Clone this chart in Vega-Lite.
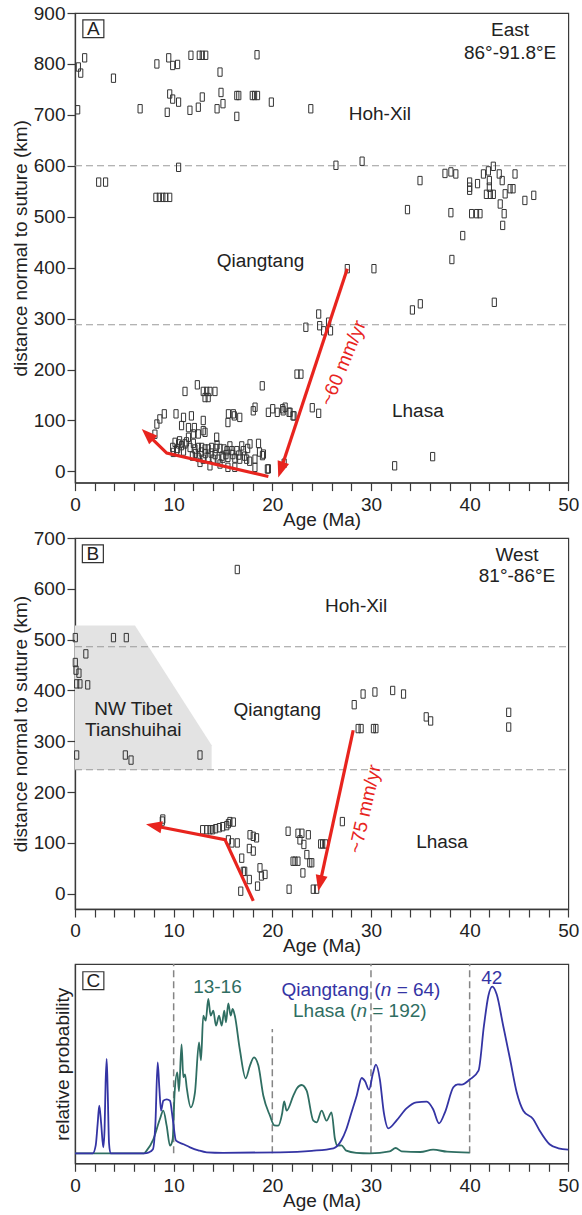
{
  "$schema": "https://vega.github.io/schema/vega-lite/v6.json",
  "padding": {"left": 10, "top": 3, "right": 4, "bottom": 5},
  "config": {
    "font": "Liberation Sans",
    "view": {"stroke": "#3a3a3a", "strokeWidth": 1.2},
    "axis": {
      "domainColor": "#3a3a3a", "domainWidth": 1.3, "tickColor": "#3a3a3a", "tickWidth": 1.2,
      "labelColor": "#222", "titleColor": "#222", "labelFont": "Liberation Sans", "titleFont": "Liberation Sans",
      "labelFontSize": 19, "titleFontSize": 19, "titleFontWeight": "normal", "grid": false, "tickSize": 8
    },
    "text": {"font": "Liberation Sans", "fontSize": 19, "color": "#222"}
  },
  "bounds": "flush",
  "spacing": 55,
  "vconcat": [
    {
      "width": 493.3, "height": 469.6,
      "encoding": {
        "x": {"field": "x", "type": "quantitative", "scale": {"domain": [0, 50], "nice": false, "zero": false},
          "axis": {"title": "Age (Ma)", "values": [0,2,4,6,8,10,12,14,16,18,20,22,24,26,28,30,32,34,36,38,40,42,44,46,48,50],
            "labelExpr": "datum.value % 10 === 0 ? datum.label : ''", "labelOverlap": false, "labelFlush": false, "labelPadding": 5, "titlePadding": -4}},
        "y": {"field": "y", "type": "quantitative", "scale": {"domain": [-22, 900], "nice": false, "zero": false},
          "axis": {"title": "distance normal to suture (km)", "values": [0,100,200,300,400,500,600,700,800,900], "labelPadding": 2, "titlePadding": 3}}
      },
      "layer": [
        {"data": {"values": [{"x": 0, "x2": 50, "y": 600}, {"x": 0, "x2": 50, "y": 288}]},
          "mark": {"type": "rule", "color": "#9a9a9a", "strokeDash": [7, 4], "strokeWidth": 1.1},
          "encoding": {"x2": {"field": "x2"}}},
        {"data": {"values": [
          {"x":0.34,"y":794},{"x":0.58,"y":782},{"x":0.98,"y":812},{"x":0.27,"y":710},{"x":3.9,"y":772},{"x":2.4,"y":568},{"x":3.1,"y":568},{"x":6.6,"y":712},{"x":8.3,"y":800},{"x":9.35,"y":705},{"x":9.5,"y":812},{"x":9.6,"y":741},{"x":9.9,"y":731},{"x":9.9,"y":797},{"x":10.4,"y":799},{"x":10.5,"y":725},{"x":10.5,"y":597},{"x":8.2,"y":538},{"x":8.55,"y":538},{"x":8.9,"y":538},{"x":9.2,"y":538},{"x":9.6,"y":538},{"x":11.65,"y":709},{"x":11.75,"y":817},{"x":12.6,"y":817},{"x":12.9,"y":817},{"x":13.25,"y":817},{"x":12.5,"y":715},{"x":12.9,"y":735},{"x":14.4,"y":712},{"x":14.7,"y":784},{"x":14.8,"y":744},{"x":15.0,"y":722},{"x":16.4,"y":738},{"x":16.6,"y":738},{"x":16.4,"y":697},{"x":17.97,"y":738},{"x":18.2,"y":738},{"x":18.5,"y":738},{"x":18.45,"y":818},{"x":19.9,"y":725},
          {"x":23.9,"y":712},{"x":26.45,"y":601},{"x":29.1,"y":609},{"x":34.97,"y":571},{"x":33.7,"y":514},{"x":37.5,"y":585},{"x":38.1,"y":588},{"x":38.6,"y":584},{"x":38.1,"y":508},{"x":39.3,"y":463},{"x":40.0,"y":568},{"x":40.0,"y":558},{"x":40.0,"y":552},{"x":40.2,"y":506},{"x":40.7,"y":506},{"x":41.05,"y":506},{"x":40.8,"y":565},{"x":41.4,"y":584},{"x":41.9,"y":590},{"x":42.0,"y":571},{"x":42.0,"y":558},{"x":42.4,"y":599},{"x":41.7,"y":544},{"x":42.1,"y":544},{"x":42.4,"y":544},{"x":43.0,"y":584},{"x":43.1,"y":525},{"x":43.3,"y":571},{"x":43.5,"y":506},{"x":43.35,"y":483},{"x":43.6,"y":545},{"x":44.1,"y":555},{"x":44.4,"y":555},{"x":44.6,"y":584},{"x":45.6,"y":532},{"x":46.5,"y":542},
          {"x":27.6,"y":398},{"x":30.3,"y":398},{"x":38.2,"y":416},{"x":34.2,"y":317},{"x":35.0,"y":329},{"x":42.5,"y":332},{"x":24.7,"y":309},{"x":23.4,"y":283},{"x":24.8,"y":286},{"x":25.2,"y":276},{"x":25.7,"y":293},{"x":25.9,"y":276},{"x":22.5,"y":191},{"x":22.9,"y":191},{"x":21.1,"y":119},{"x":21.8,"y":116},{"x":22.2,"y":109},{"x":24.05,"y":125},{"x":24.7,"y":114},{"x":32.4,"y":11},{"x":36.25,"y":29},{"x":21.2,"y":16},
          {"x":11.15,"y":157},{"x":12.4,"y":170},{"x":13.0,"y":157},{"x":13.35,"y":157},{"x":13.68,"y":157},{"x":14.19,"y":157},{"x":13.18,"y":145},{"x":13.5,"y":145},{"x":18.98,"y":168},{"x":9.05,"y":113},{"x":8.6,"y":103},{"x":8.3,"y":93},{"x":8.1,"y":73},{"x":10.24,"y":113},{"x":11.0,"y":106},{"x":11.8,"y":109},{"x":10.8,"y":90},{"x":11.5,"y":86},{"x":12.1,"y":86},{"x":13.0,"y":100},{"x":13.0,"y":80},{"x":14.36,"y":67},{"x":15.5,"y":96},{"x":16.15,"y":109},{"x":16.7,"y":106},{"x":15.55,"y":113},{"x":16.05,"y":113},{"x":18.07,"y":119},{"x":18.25,"y":126},{"x":19.6,"y":116},{"x":20.04,"y":123},{"x":20.5,"y":116},{"x":21.05,"y":123},{"x":21.3,"y":126},{"x":21.7,"y":116},{"x":22.1,"y":109},{"x":19.6,"y":5},
          {"x":10.14,"y":57},{"x":10.5,"y":54},{"x":10.8,"y":50.5},{"x":11.15,"y":54},{"x":11.66,"y":47},{"x":12.16,"y":44},{"x":12.5,"y":47},{"x":12.84,"y":47},{"x":13.18,"y":44},{"x":13.5,"y":44},{"x":13.85,"y":47},{"x":14.3,"y":45},{"x":14.7,"y":45},{"x":15.1,"y":44},{"x":15.4,"y":40.7},{"x":15.9,"y":40.7},{"x":16.4,"y":40.7},{"x":17.06,"y":40.7},{"x":17.74,"y":54},{"x":19.1,"y":34},
          {"x":12.5,"y":27.5},{"x":13.0,"y":24},{"x":13.5,"y":27.5},{"x":14.0,"y":24},{"x":14.5,"y":24},{"x":15.0,"y":26},{"x":15.5,"y":27.5},{"x":16.2,"y":26},{"x":16.7,"y":24},{"x":17.4,"y":24},{"x":18.24,"y":24},{"x":19.0,"y":31},
          {"x":12.67,"y":17.7},{"x":13.68,"y":11},{"x":14.7,"y":14.5},{"x":15.5,"y":8},{"x":16.2,"y":8},{"x":18.24,"y":8},{"x":19.5,"y":4.7},{"x":9.9,"y":47},{"x":9.97,"y":37.3},{"x":10.3,"y":40.7},{"x":11.5,"y":67},{"x":12.0,"y":73.5},{"x":12.5,"y":73.5},{"x":13.18,"y":76.7},
          {"x":10.6,"y":60},{"x":11.0,"y":40},{"x":11.3,"y":58},{"x":12.0,"y":55},{"x":12.2,"y":35},{"x":13.2,"y":35},{"x":13.8,"y":36},{"x":14.2,"y":33},{"x":14.9,"y":30},{"x":15.3,"y":33},{"x":16.0,"y":33},{"x":16.6,"y":32},{"x":17.2,"y":30},{"x":17.7,"y":20},{"x":10.4,"y":45},{"x":11.9,"y":30},{"x":12.8,"y":38},{"x":14.4,"y":52},{"x":15.7,"y":50},{"x":16.9,"y":50},{"x":17.5,"y":45},{"x":18.7,"y":38},{"x":18.6,"y":55}
        ]},
          "mark": {"type": "point", "shape": "M-0.5,-1H0.5V1H-0.5Z", "size": 70, "filled": false, "stroke": "#333", "strokeWidth": 1, "opacity": 1}},
        {"data": {"values": [{"x":27.6,"y":398,"g":"a1","i":0},{"x":20.86,"y":3,"g":"a1","i":1},{"x":19.6,"y":-10,"g":"a2","i":0},{"x":9.3,"y":36,"g":"a2","i":1},{"x":7.35,"y":72.5,"g":"a2","i":2}]},
          "mark": {"type": "line", "color": "#e8241e", "strokeWidth": 3.2, "strokeJoin": "miter"},
          "encoding": {"detail": {"field": "g"}, "order": {"field": "i"}}},
        {"data": {"values": [{"x":20.86,"y":3.1}]},
          "mark": {"type": "point", "shape": "M0,-1L0.75,1L-0.75,1Z", "size": 256, "filled": true, "color": "#e8241e", "opacity": 1, "angle": 198.4}},
        {"data": {"values": [{"x":7.35,"y":72.5}]},
          "mark": {"type": "point", "shape": "M0,-1L0.75,1L-0.75,1Z", "size": 256, "filled": true, "color": "#e8241e", "opacity": 1, "angle": 313.8}},
        {"data": {"values": [{"x":30.9,"y":701,"t":"Hoh-Xil"},{"x":18.8,"y":414,"t":"Qiangtang"},{"x":34.75,"y":118,"t":"Lhasa"},{"x":44.1,"y":866,"t":"East"},{"x":44.1,"y":821,"t":"86°-91.8°E"},{"x":1.86,"y":869,"t":"A"}]},
          "mark": {"type": "text", "baseline": "middle", "align": "center"},
          "encoding": {"text": {"field": "t"}}},
        {"data": {"values": [{"x":1.86,"y":869}]},
          "mark": {"type": "point", "shape": "M-1,-0.85H1V0.85H-1Z", "size": 441, "filled": false, "stroke": "#333", "strokeWidth": 1.2, "opacity": 1}},
        {"data": {"values": [{"x":27.2,"y":212.6,"t":"~60 mm/yr"}]},
          "mark": {"type": "text", "baseline": "middle", "align": "center", "angle": 292.6, "color": "#e8241e"},
          "encoding": {"text": {"field": "t"}}}
      ]
    },
    {
      "width": 493.3, "height": 371,
      "encoding": {
        "x": {"field": "x", "type": "quantitative", "scale": {"domain": [0, 50], "nice": false, "zero": false},
          "axis": {"title": "Age (Ma)", "values": [0,2,4,6,8,10,12,14,16,18,20,22,24,26,28,30,32,34,36,38,40,42,44,46,48,50],
            "labelExpr": "datum.value % 10 === 0 ? datum.label : ''", "labelOverlap": false, "labelFlush": false, "labelPadding": 5, "titlePadding": -4}},
        "y": {"field": "y", "type": "quantitative", "scale": {"domain": [-30, 700], "nice": false, "zero": false},
          "axis": {"title": "distance normal to suture (km)", "values": [0,100,200,300,400,500,600,700], "labelPadding": 2, "titlePadding": 3}}
      },
      "layer": [
        {"data": {"values": [{"x":0,"y":528,"y2":243.4},{"x":6.08,"y":528,"y2":243.4},{"x":13.85,"y":292,"y2":243.4}]},
          "mark": {"type": "area", "color": "#e3e3e3", "opacity": 1},
          "encoding": {"y2": {"field": "y2"}}},
        {"data": {"values": [{"x": 0, "x2": 50, "y": 486}, {"x": 0, "x2": 50, "y": 244}]},
          "mark": {"type": "rule", "color": "#9a9a9a", "strokeDash": [7, 4], "strokeWidth": 1.1},
          "encoding": {"x2": {"field": "x2"}}},
        {"data": {"values": [
          {"x":16.45,"y":638},{"x":0.03,"y":504},{"x":3.9,"y":504},{"x":5.2,"y":504},{"x":1.1,"y":472},{"x":0.03,"y":455},{"x":0.4,"y":434},{"x":0.1,"y":440},{"x":0.17,"y":413},{"x":0.5,"y":413},{"x":1.29,"y":411},{"x":0.17,"y":273},{"x":5.1,"y":273},{"x":5.68,"y":263},{"x":12.67,"y":273},{"x":8.9,"y":147},{"x":8.85,"y":143},
          {"x":12.94,"y":126},{"x":13.35,"y":126},{"x":13.68,"y":126},{"x":13.95,"y":126},{"x":14.26,"y":128},{"x":14.63,"y":130},{"x":14.97,"y":132},{"x":15.38,"y":134},{"x":15.55,"y":138},{"x":15.7,"y":142},{"x":16.05,"y":141},
          {"x":15.55,"y":106},{"x":15.9,"y":100},{"x":16.45,"y":100},{"x":17.74,"y":116},{"x":18.07,"y":113},{"x":18.4,"y":110},{"x":17.67,"y":89},{"x":18.07,"y":84},{"x":16.9,"y":70},{"x":17.06,"y":44},{"x":17.2,"y":44},{"x":17.67,"y":28},{"x":18.75,"y":51},{"x":18.9,"y":35},{"x":19.26,"y":38},{"x":18.5,"y":15},{"x":16.8,"y":5},
          {"x":21.6,"y":123},{"x":22.1,"y":64},{"x":22.3,"y":64},{"x":22.6,"y":64},{"x":22.6,"y":119},{"x":23.0,"y":119},{"x":23.65,"y":116},{"x":22.8,"y":106},{"x":23.2,"y":97},{"x":23.5,"y":77},{"x":23.8,"y":61},{"x":24.0,"y":61},{"x":23.1,"y":41},{"x":24.9,"y":98},{"x":25.1,"y":98},{"x":25.4,"y":98},{"x":21.7,"y":9},{"x":24.15,"y":9},{"x":24.5,"y":9},
          {"x":28.3,"y":372},{"x":29.2,"y":393},{"x":30.4,"y":397},{"x":32.2,"y":400},{"x":33.3,"y":393},{"x":35.6,"y":348},{"x":36.05,"y":340},{"x":43.96,"y":357},{"x":43.96,"y":328},{"x":28.7,"y":325},{"x":29.0,"y":325},{"x":30.25,"y":325},{"x":30.5,"y":325},{"x":27.1,"y":142}
        ]},
          "mark": {"type": "point", "shape": "M-0.5,-1H0.5V1H-0.5Z", "size": 70, "filled": false, "stroke": "#333", "strokeWidth": 1, "opacity": 1}},
        {"data": {"values": [{"x":28.2,"y":321.7,"g":"b1","i":0},{"x":24.83,"y":20.5,"g":"b1","i":1},{"x":18.07,"y":-14,"g":"b2","i":0},{"x":15.2,"y":106.4,"g":"b2","i":1},{"x":7.99,"y":133.9,"g":"b2","i":2}]},
          "mark": {"type": "line", "color": "#e8241e", "strokeWidth": 3.2, "strokeJoin": "miter"},
          "encoding": {"detail": {"field": "g"}, "order": {"field": "i"}}},
        {"data": {"values": [{"x":24.83,"y":20.5}]},
          "mark": {"type": "point", "shape": "M0,-1L0.75,1L-0.75,1Z", "size": 256, "filled": true, "color": "#e8241e", "opacity": 1, "angle": 192.2}},
        {"data": {"values": [{"x":7.99,"y":133.9}]},
          "mark": {"type": "point", "shape": "M0,-1L0.75,1L-0.75,1Z", "size": 256, "filled": true, "color": "#e8241e", "opacity": 1, "angle": 281.2}},
        {"data": {"values": [{"x":28.5,"y":566,"t":"Hoh-Xil"},{"x":20.5,"y":362,"t":"Qiangtang"},{"x":37.2,"y":102,"t":"Lhasa"},{"x":44.8,"y":667,"t":"West"},{"x":44.8,"y":625,"t":"81°-86°E"},{"x":5.9,"y":364,"t":"NW Tibet"},{"x":5.9,"y":322,"t":"Tianshuihai"},{"x":1.81,"y":669,"t":"B"}]},
          "mark": {"type": "text", "baseline": "middle", "align": "center"},
          "encoding": {"text": {"field": "t"}}},
        {"data": {"values": [{"x":1.81,"y":669}]},
          "mark": {"type": "point", "shape": "M-1,-0.85H1V0.85H-1Z", "size": 441, "filled": false, "stroke": "#333", "strokeWidth": 1.2, "opacity": 1}},
        {"data": {"values": [{"x":29.4,"y":166.7,"t":"~75 mm/yr"}]},
          "mark": {"type": "text", "baseline": "middle", "align": "center", "angle": 282.8, "color": "#e8241e"},
          "encoding": {"text": {"field": "t"}}}
      ]
    },
    {
      "width": 493.3, "height": 199.3,
      "encoding": {
        "x": {"field": "x", "type": "quantitative", "scale": {"domain": [0, 50], "nice": false, "zero": false},
          "axis": {"title": "Age (Ma)", "values": [0,2,4,6,8,10,12,14,16,18,20,22,24,26,28,30,32,34,36,38,40,42,44,46,48,50],
            "labelExpr": "datum.value % 10 === 0 ? datum.label : ''", "labelOverlap": false, "labelFlush": false, "labelPadding": 5, "titlePadding": -4}},
        "y": {"field": "y", "type": "quantitative", "scale": {"domain": [-10, 189.3], "nice": false, "zero": false},
          "axis": {"title": "relative probability", "labels": false, "ticks": false, "titlePadding": 2}}
      },
      "layer": [
        {"data": {"values": [{"x":10,"y":0,"y2":189.3},{"x":30,"y":0,"y2":189.3},{"x":40,"y":0,"y2":189.3},{"x":20,"y":0,"y2":124.3}]},
          "mark": {"type": "rule", "color": "#858585", "strokeDash": [7, 4], "strokeWidth": 1.5},
          "encoding": {"y2": {"field": "y2"}}},
        {"data": {"values": [
          {"x":0,"y":0},{"x":7.0,"y":0},{"x":7.26,"y":2.7},{"x":7.94,"y":14},{"x":8.6,"y":34},{"x":8.95,"y":42.6},{"x":9.29,"y":27.6},{"x":9.63,"y":7.6},{"x":9.9,"y":14},{"x":10.1,"y":61},{"x":10.37,"y":81},{"x":10.54,"y":62},{"x":10.8,"y":109},{"x":10.98,"y":76},{"x":11.15,"y":79},{"x":11.32,"y":66},{"x":11.73,"y":46},{"x":12.16,"y":61},{"x":12.57,"y":111},{"x":12.77,"y":93},{"x":13.0,"y":137.6},{"x":13.25,"y":132.6},{"x":13.51,"y":154.3},{"x":13.75,"y":137.6},{"x":14.02,"y":142.6},{"x":14.29,"y":127.6},{"x":14.6,"y":137.6},{"x":14.87,"y":127.6},{"x":15.13,"y":142.6},{"x":15.3,"y":131},{"x":15.54,"y":150},{"x":15.78,"y":137.6},{"x":15.98,"y":144.3},{"x":16.2,"y":137.6},{"x":16.7,"y":104.3},{"x":17.3,"y":75},{"x":17.74,"y":88},{"x":18.14,"y":96},{"x":18.58,"y":88},{"x":19.09,"y":57.6},{"x":19.76,"y":37.6},{"x":20.2,"y":28},{"x":20.6,"y":27.6},{"x":21.0,"y":40},{"x":21.2,"y":52},{"x":21.45,"y":42.6},{"x":22.13,"y":57.6},{"x":22.5,"y":65},{"x":22.97,"y":68.3},{"x":23.48,"y":62.6},{"x":24.16,"y":32.6},{"x":24.5,"y":31},{"x":25.0,"y":42.6},{"x":25.5,"y":32.6},{"x":26.0,"y":41},{"x":26.35,"y":14.3},{"x":26.6,"y":7.6},{"x":27.0,"y":8},{"x":27.5,"y":2.6},{"x":28.5,"y":0.5},{"x":29.9,"y":0},{"x":31.9,"y":2},{"x":32.5,"y":5.3},{"x":33.1,"y":2},{"x":35.0,"y":1.3},{"x":36.3,"y":3.6},{"x":37.7,"y":1.6},{"x":40.0,"y":0.6}
        ]},
          "mark": {"type": "line", "color": "#2f6e62", "strokeWidth": 1.8, "interpolate": "monotone"}},
        {"data": {"values": [
          {"x":0,"y":0},{"x":1.8,"y":0},{"x":2.1,"y":8},{"x":2.3,"y":30},{"x":2.46,"y":47.6},{"x":2.65,"y":30},{"x":2.87,"y":6},{"x":3.0,"y":25},{"x":3.1,"y":70},{"x":3.21,"y":94.3},{"x":3.32,"y":60},{"x":3.45,"y":10},{"x":3.6,"y":0},{"x":7.0,"y":0},{"x":7.5,"y":1},{"x":7.9,"y":4},{"x":8.15,"y":30},{"x":8.38,"y":91},{"x":8.55,"y":65},{"x":8.72,"y":42.6},{"x":8.95,"y":52.6},{"x":9.3,"y":54},{"x":9.63,"y":52.6},{"x":9.9,"y":35},{"x":10.24,"y":12.6},{"x":11.0,"y":9},{"x":11.66,"y":6},{"x":12.5,"y":3},{"x":13.35,"y":1},{"x":15,"y":0.5},{"x":20.78,"y":1},{"x":24,"y":2.5},{"x":26.2,"y":5},{"x":27.0,"y":13},{"x":27.5,"y":24},{"x":28.0,"y":40},{"x":28.55,"y":57.6},{"x":29.06,"y":75.3},{"x":29.4,"y":72},{"x":29.8,"y":63.6},{"x":30.2,"y":80},{"x":30.5,"y":88.6},{"x":30.9,"y":74},{"x":31.3,"y":41},{"x":31.76,"y":25},{"x":32.6,"y":33},{"x":33.6,"y":45},{"x":34.6,"y":51},{"x":35.65,"y":51.6},{"x":36.3,"y":44},{"x":36.9,"y":30},{"x":37.5,"y":41},{"x":38.35,"y":66},{"x":38.8,"y":69},{"x":39.2,"y":68.6},{"x":40.04,"y":74},{"x":40.9,"y":82.6},{"x":41.45,"y":127.6},{"x":41.9,"y":157.6},{"x":42.3,"y":166.6},{"x":42.74,"y":159},{"x":43.4,"y":127.6},{"x":44.1,"y":94},{"x":44.77,"y":61},{"x":45.44,"y":42.6},{"x":46.45,"y":34},{"x":47.1,"y":22.6},{"x":48.1,"y":9},{"x":49,"y":5},{"x":50,"y":3.6}
        ]},
          "mark": {"type": "line", "color": "#3434a4", "strokeWidth": 1.8, "interpolate": "monotone"}},
        {"data": {"values": [{"x":14.44,"y":166.3,"t":"13-16"}]},
          "mark": {"type": "text", "baseline": "middle", "align": "center", "color": "#2f6e62"},
          "encoding": {"text": {"field": "t"}}},
        {"data": {"values": [{"x":42.24,"y":175,"t":"42"}]},
          "mark": {"type": "text", "baseline": "middle", "align": "center", "color": "#3434a4"},
          "encoding": {"text": {"field": "t"}}},
        {"data": {"values": [{"x":30.98,"y":163.6,"t":"Qiangtang ("}]},
          "mark": {"type": "text", "baseline": "middle", "align": "right", "color": "#3434a4"},
          "encoding": {"text": {"field": "t"}}},
        {"data": {"values": [{"x":31.52,"y":163.6,"t":"n"}]},
          "mark": {"type": "text", "baseline": "middle", "align": "center", "color": "#3434a4", "fontStyle": "italic"},
          "encoding": {"text": {"field": "t"}}},
        {"data": {"values": [{"x":32.6,"y":163.6,"t":"= 64)"}]},
          "mark": {"type": "text", "baseline": "middle", "align": "left", "color": "#3434a4"},
          "encoding": {"text": {"field": "t"}}},
        {"data": {"values": [{"x":28.52,"y":142.6,"t":"Lhasa ("}]},
          "mark": {"type": "text", "baseline": "middle", "align": "right", "color": "#2f6e62"},
          "encoding": {"text": {"field": "t"}}},
        {"data": {"values": [{"x":29.06,"y":142.6,"t":"n"}]},
          "mark": {"type": "text", "baseline": "middle", "align": "center", "color": "#2f6e62", "fontStyle": "italic"},
          "encoding": {"text": {"field": "t"}}},
        {"data": {"values": [{"x":30.13,"y":142.6,"t":"= 192)"}]},
          "mark": {"type": "text", "baseline": "middle", "align": "left", "color": "#2f6e62"},
          "encoding": {"text": {"field": "t"}}},
        {"data": {"values": [{"x":1.86,"y":172.6,"t":"C"}]},
          "mark": {"type": "text", "baseline": "middle", "align": "center"},
          "encoding": {"text": {"field": "t"}}},
        {"data": {"values": [{"x":1.86,"y":172.6}]},
          "mark": {"type": "point", "shape": "M-1,-0.85H1V0.85H-1Z", "size": 441, "filled": false, "stroke": "#333", "strokeWidth": 1.2, "opacity": 1}}
      ]
    }
  ]
}
